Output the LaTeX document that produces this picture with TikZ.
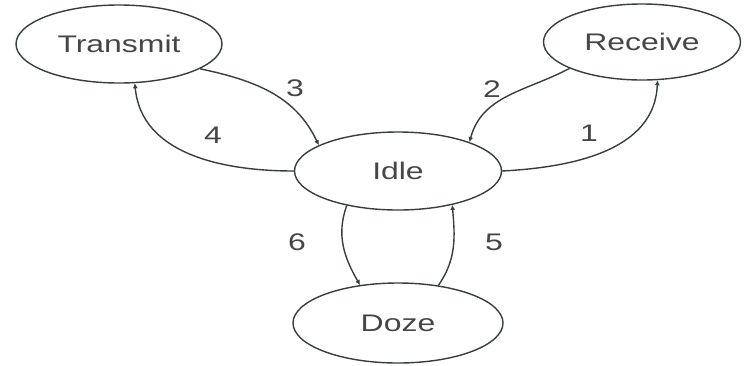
\documentclass[tikz,border=0pt]{standalone}
\usepackage{fontspec}
\setmainfont{Liberation Sans}[FakeStretch=1.33]
\usetikzlibrary{shapes.geometric,arrows.meta}
\definecolor{linegray}{RGB}{55,62,62}
\definecolor{textgray}{RGB}{70,70,70}
\begin{document}
\begin{tikzpicture}[x=1pt,y=-1pt,
  state/.style={ellipse, draw=linegray, line width=1.4pt, inner sep=0pt,
    font=\fontsize{24}{24}\selectfont, text=textgray},
  trans/.style={draw=linegray, line width=1.4pt, -{Latex[length=5pt,width=5pt]}},
  lbl/.style={font=\fontsize{24}{24}\selectfont, text=textgray, inner sep=0pt}]
\useasboundingbox (0,0) rectangle (744,365);
\fill[white] (0,0) rectangle (744,365);

% states
\node[state, minimum width=206pt, minimum height=78pt] (T) at (119,44) {Transmit};
\node[state, minimum width=197pt, minimum height=76pt] (R) at (642,42) {Receive};
\node[state, minimum width=207pt, minimum height=78pt] (I) at (398,171) {Idle};
\node[state, minimum width=210pt, minimum height=80pt] (D) at (398,323) {Doze};

% transitions
\draw[trans] (T.-17) to[out=-12, in=115] (I.162);
\draw[trans] (I.180) to[out=180, in=-85] (T.-68);
\draw[trans] (R.200) to[out=208, in=75] (I.22);
\draw[trans] (I.0) to[out=3, in=-92] (R.-68);
\draw[trans] (I.-146) to[out=-110, in=120] (D.135);
\draw[trans] (D.43) to[out=55, in=-85] (I.-32);

% labels
\node[lbl] (l3) at (295,88) {3};
\node[lbl] (l4) at (213,135) {4};
\node[lbl] (l2) at (492,89) {2};
\node[lbl] (l1) at (589,133) {1};
\node[lbl] (l6) at (297,242) {6};
\node[lbl] (l5) at (494,242) {5};
\end{tikzpicture}
\end{document}
